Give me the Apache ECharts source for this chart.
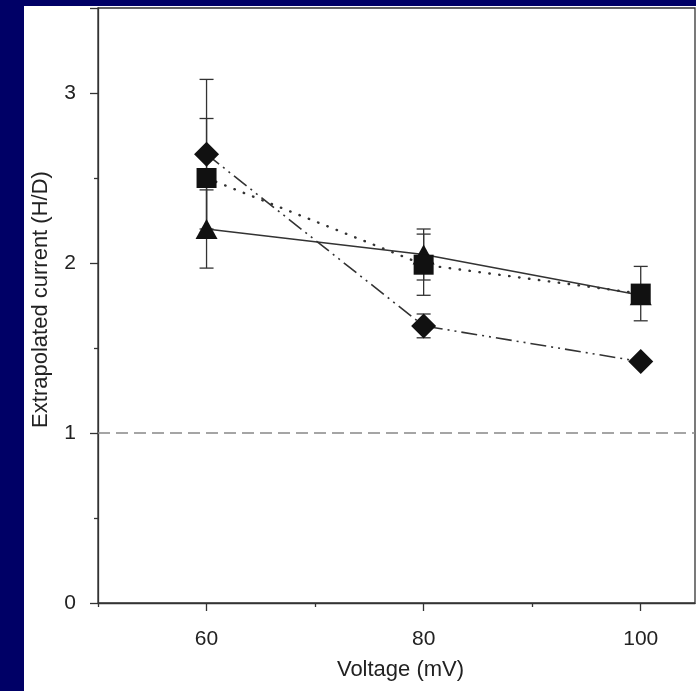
<!DOCTYPE html>
<html>
<head>
<meta charset="utf-8">
<script src="https://cdn.jsdelivr.net/npm/echarts@6/dist/echarts.min.js"></script>
<style>
  html, body { margin: 0; padding: 0; background: #000066; }
  #main { width: 696px; height: 691px; }
</style>
</head>
<body>
<div id="main"></div>
<script>
// voltage steps (mV)
var voltages = [60, 80, 100];

// triangle series, solid line
var triMean = [2.20, 2.05, 1.81];
var triErr = [0.23, 0.15, 0];

// square series, dotted line
var sqMean = [2.50, 1.99, 1.82];
var sqErr = [0.35, 0.18, 0.16];

// diamond series, dash-dot-dot line
var diaMean = [2.64, 1.63, 1.42];
var diaErr = [0.44, 0.07, 0];

// ticks
var xMajorTicks = [60, 80, 100];
var xMinorTicks = [50, 70, 90];
var refLevel = 1;

var chart = echarts.init(document.getElementById('main'));

function pairs(ys) {
  return voltages.map(function (v, i) { return [v, ys[i]]; });
}

function errData(ys, es) {
  return voltages.map(function (v, i) { return [v, ys[i] - es[i], ys[i] + es[i]]; });
}

// error bar drawn through the axes
function renderErr(params, api) {
  var lo = api.coord([api.value(0), api.value(1)]);
  var hi = api.coord([api.value(0), api.value(2)]);
  if (Math.abs(lo[1] - hi[1]) < 1) return;
  var w = 7;
  var st = { stroke: '#333', lineWidth: 1.3 };
  return {
    type: 'group',
    children: [
      { type: 'line', shape: { x1: lo[0], y1: lo[1], x2: hi[0], y2: hi[1] }, style: st },
      { type: 'line', shape: { x1: lo[0] - w, y1: lo[1], x2: lo[0] + w, y2: lo[1] }, style: st },
      { type: 'line', shape: { x1: hi[0] - w, y1: hi[1], x2: hi[0] + w, y2: hi[1] }, style: st }
    ]
  };
}

var font = 'Liberation Sans, Arial, sans-serif';
var ink = '#222';

var option = {
  backgroundColor: '#000066',
  animation: false,
  graphic: [{
    type: 'rect',
    z: -10,
    shape: { x: 24, y: 6, width: 672, height: 685 },
    style: { fill: '#ffffff' }
  }],
  grid: {
    left: 98, right: 1, top: 8, bottom: 88,
    show: true, borderColor: '#333', borderWidth: 1.3, backgroundColor: 'transparent'
  },
  xAxis: [{
    type: 'value',
    min: 50, max: 105,
    splitLine: { show: false },
    axisLine: { lineStyle: { color: '#333', width: 1.3 } },
    axisTick: { customValues: xMajorTicks, length: 8, lineStyle: { color: '#333', width: 1.3 } },
    axisLabel: { customValues: xMajorTicks, margin: 26, fontSize: 21, color: ink, fontFamily: font },
    name: 'Voltage (mV)',
    nameLocation: 'middle',
    nameGap: 56,
    nameTextStyle: { fontSize: 22, color: ink, fontFamily: font, padding: [0, 0, 0, 8] }
  }, {
    type: 'value',
    min: 50, max: 105,
    position: 'bottom',
    splitLine: { show: false },
    axisLine: { show: false },
    axisTick: { customValues: xMinorTicks, length: 4, lineStyle: { color: '#333', width: 1.3 } },
    axisLabel: { show: false }
  }],
  yAxis: {
    type: 'value',
    min: 0, max: 3.5, interval: 1,
    splitLine: { show: false },
    axisLine: { show: true, lineStyle: { color: '#333', width: 1.3 } },
    axisTick: { show: true, length: 8, lineStyle: { color: '#333', width: 1.3 } },
    minorTick: { show: true, splitNumber: 2, length: 4, lineStyle: { color: '#333', width: 1.3 } },
    axisLabel: { margin: 22, fontSize: 21, color: ink, fontFamily: font, showMaxLabel: false },
    name: 'Extrapolated current (H/D)',
    nameLocation: 'middle',
    nameGap: 46,
    nameTextStyle: { fontSize: 22, color: ink, fontFamily: font, padding: [0, 0, 0, 12] }
  },
  series: [
    {
      name: 'ref', type: 'line', data: [], silent: true,
      markLine: {
        symbol: 'none', silent: true, label: { show: false },
        lineStyle: { color: '#888', type: [12, 6], width: 1.5 },
        data: [{ yAxis: refLevel }]
      }
    },
    { type: 'custom', renderItem: renderErr, data: errData(triMean, triErr), z: 2 },
    { type: 'custom', renderItem: renderErr, data: errData(sqMean, sqErr), z: 2 },
    { type: 'custom', renderItem: renderErr, data: errData(diaMean, diaErr), z: 2 },
    {
      name: 'triangle', type: 'line', data: pairs(triMean), z: 3,
      symbol: 'triangle', symbolSize: [22, 20],
      itemStyle: { color: '#111' },
      lineStyle: { color: '#333', width: 1.6, type: 'solid' }
    },
    {
      name: 'square', type: 'line', data: pairs(sqMean), z: 4,
      symbol: 'rect', symbolSize: 20,
      itemStyle: { color: '#111' },
      lineStyle: { color: '#333', width: 2.4, type: [0.5, 9.5], cap: 'round' }
    },
    {
      name: 'diamond', type: 'line', data: pairs(diaMean), z: 5,
      symbol: 'diamond', symbolSize: 25,
      itemStyle: { color: '#111' },
      lineStyle: { color: '#333', width: 1.6, type: [16, 5, 2, 5, 2, 5] }
    }
  ]
};

chart.setOption(option);
</script>
</body>
</html>
